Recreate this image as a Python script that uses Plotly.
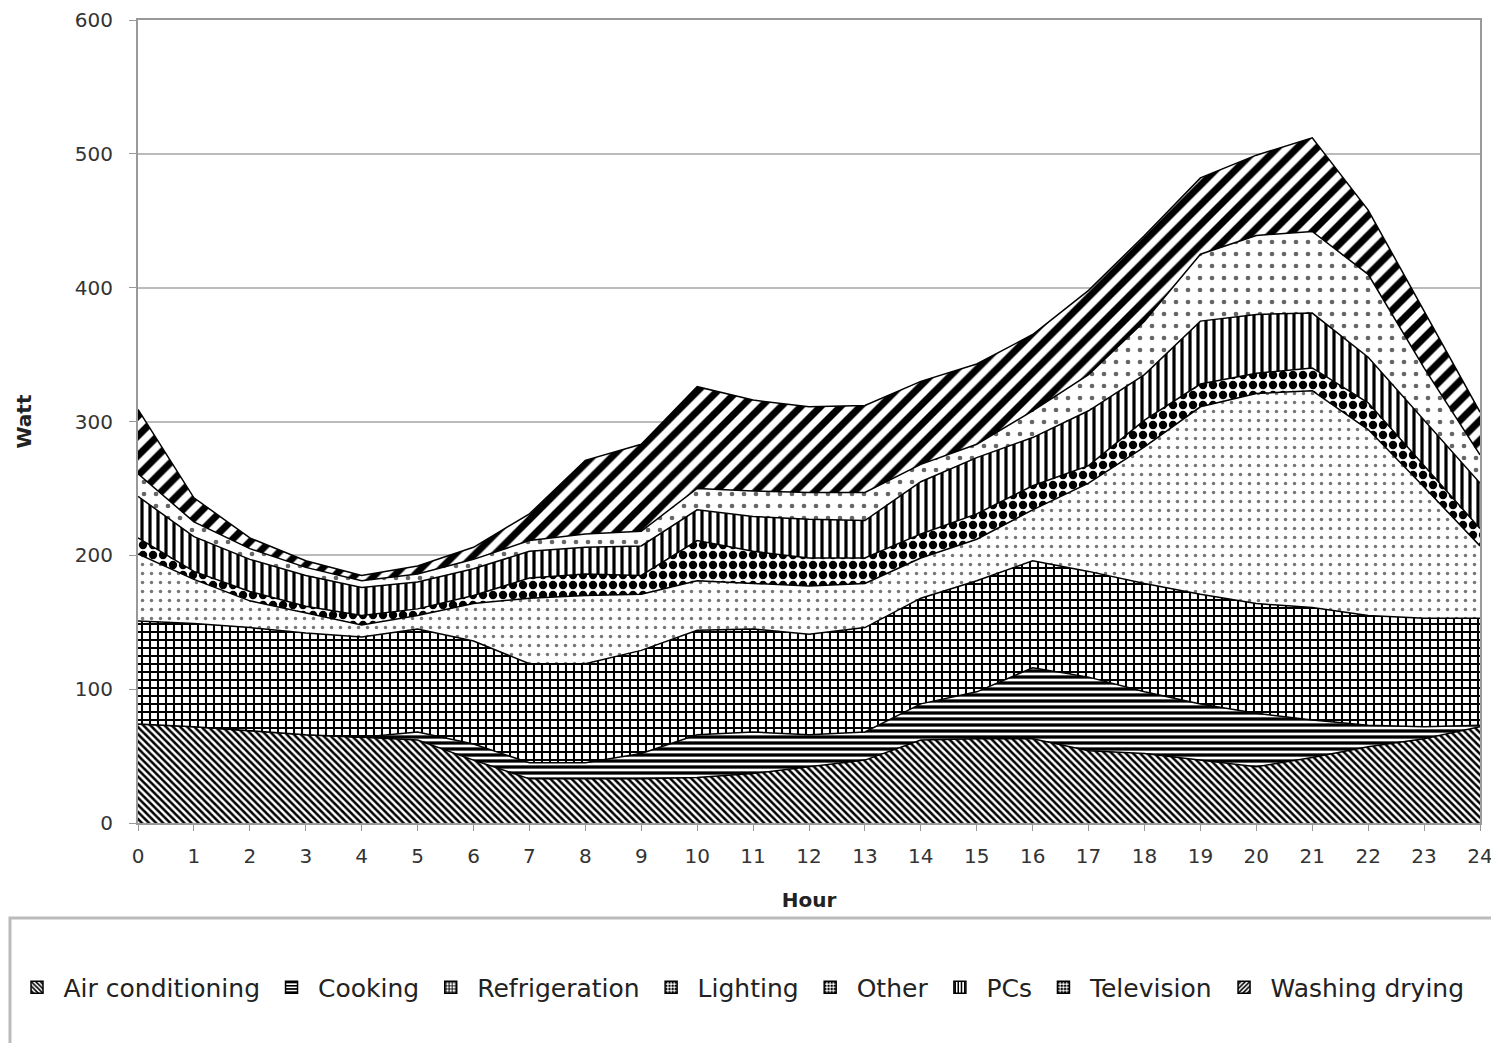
import plotly.graph_objects as go

hours = list(range(25))
hour_labels = [str(h) for h in hours]

air_conditioning = [74, 72, 69, 66, 64, 62, 47, 33, 33, 33, 34, 37, 42, 47, 62, 63, 63, 54, 52, 47, 42, 49, 57, 63, 72]
cooking = [0, 0, 0, 0, 0, 6, 12, 12, 12, 19, 32, 31, 24, 21, 27, 35, 53, 55, 46, 42, 40, 28, 16, 9, 1]
refrigeration = [77, 77, 77, 76, 75, 77, 77, 74, 74, 77, 78, 77, 75, 78, 79, 83, 80, 79, 81, 82, 82, 84, 82, 81, 80]
lighting = [50, 33, 20, 15, 9, 10, 28, 49, 51, 42, 37, 34, 36, 33, 30, 31, 38, 66, 102, 140, 157, 162, 139, 98, 54]
other = [12, 6, 7, 5, 7, 5, 6, 15, 16, 14, 30, 24, 21, 19, 18, 19, 18, 13, 20, 17, 15, 17, 20, 16, 13]
pcs = [31, 26, 24, 23, 21, 20, 20, 20, 20, 22, 23, 26, 29, 28, 39, 42, 36, 41, 34, 47, 44, 41, 34, 34, 34]
television = [17, 11, 8, 6, 5, 6, 7, 8, 10, 11, 16, 19, 20, 21, 13, 10, 20, 27, 40, 50, 59, 61, 62, 39, 21]
washing_drying = [48, 18, 8, 5, 4, 6, 9, 20, 55, 65, 76, 68, 64, 65, 62, 60, 57, 63, 64, 57, 60, 70, 48, 42, 32]

series_names = ["Air conditioning", "Cooking", "Refrigeration", "Lighting",
                "Other", "PCs", "Television", "Washing drying"]
series_values = [air_conditioning, cooking, refrigeration, lighting,
                 other, pcs, television, washing_drying]

patterns = [
    dict(shape="\\", fgcolor="#000000", bgcolor="#ffffff", size=5, solidity=0.5, fgopacity=1),
    dict(shape="-", fgcolor="#000000", bgcolor="#ffffff", size=6, solidity=0.55, fgopacity=1),
    dict(shape="+", fgcolor="#000000", bgcolor="#ffffff", size=8, solidity=0.45, fgopacity=1),
    dict(shape=".", fgcolor="#777777", bgcolor="#ffffff", size=9, solidity=0.12, fgopacity=1),
    dict(shape=".", fgcolor="#000000", bgcolor="#ffffff", size=10, solidity=0.55, fgopacity=1),
    dict(shape="|", fgcolor="#000000", bgcolor="#ffffff", size=8, solidity=0.4, fgopacity=1),
    dict(shape=".", fgcolor="#666666", bgcolor="#ffffff", size=12, solidity=0.12, fgopacity=1),
    dict(shape="/", fgcolor="#000000", bgcolor="#ffffff", size=14, solidity=0.5, fgopacity=1),
]

fig = go.Figure()
for name, vals, pat in zip(series_names, series_values, patterns):
    fig.add_trace(go.Scatter(
        x=hours, y=vals, name=name, mode="lines",
        stackgroup="one", line=dict(color="#000000", width=1.5),
        fillcolor="#ffffff", fillpattern=pat, showlegend=False,
    ))

# legend swatches (square patterned boxes like the original)
for name, pat in zip(series_names, patterns):
    fig.add_trace(go.Bar(
        x=[None], y=[None], name=name, showlegend=True,
        marker=dict(color="#ffffff", line=dict(color="#000000", width=1.5),
                    pattern=dict(shape=pat["shape"], fgcolor="#000000", bgcolor="#ffffff",
                                 size=4, solidity=0.5, fgopacity=1)),
    ))

fig.update_layout(
    width=1499, height=1043,
    paper_bgcolor="#ffffff", plot_bgcolor="#ffffff",
    margin=dict(l=130, r=27, t=12, b=228, autoexpand=False),
    font=dict(family="DejaVu Sans, Liberation Sans, Arial, sans-serif", color="#222222"),
    showlegend=True,
    legend=dict(orientation="h", x=-0.095, xanchor="left", y=-0.205, yanchor="middle",
                font=dict(size=25, color="#222222"), bgcolor="rgba(0,0,0,0)",
                traceorder="normal", itemwidth=43),
    xaxis=dict(
        range=[0, 24], tickmode="array", tickvals=hours, ticktext=hour_labels,
        showgrid=False, showline=True, linecolor="#999999", linewidth=2, mirror=True,
        ticks="outside", ticklen=6, tickcolor="#999999", ticklabelstandoff=8,
        ticklabeloverflow="allow", automargin=False,
        tickfont=dict(size=20, color="#333333"),
        title=dict(text="<b>Hour</b>", font=dict(size=20, color="#222222"), standoff=26),
        zeroline=False,
    ),
    yaxis=dict(
        range=[0, 600], dtick=100,
        showgrid=True, gridcolor="#bbbbbb", gridwidth=2,
        showline=True, linecolor="#999999", linewidth=2, mirror=True,
        ticks="outside", ticklen=7, tickcolor="#999999", ticklabelstandoff=12,
        ticklabeloverflow="allow", automargin=False,
        tickfont=dict(size=20, color="#333333"),
        title=dict(text="<b>Watt</b>", font=dict(size=20, color="#222222"), standoff=38),
        zeroline=False,
    ),
)

fig.add_shape(type="rect", xref="paper", yref="paper",
              x0=-0.0954, x1=1.05, y0=-0.30, y1=-0.1183,
              line=dict(color="#bbbbbb", width=3), fillcolor="rgba(0,0,0,0)", layer="below")

fig.write_html("out.html")
